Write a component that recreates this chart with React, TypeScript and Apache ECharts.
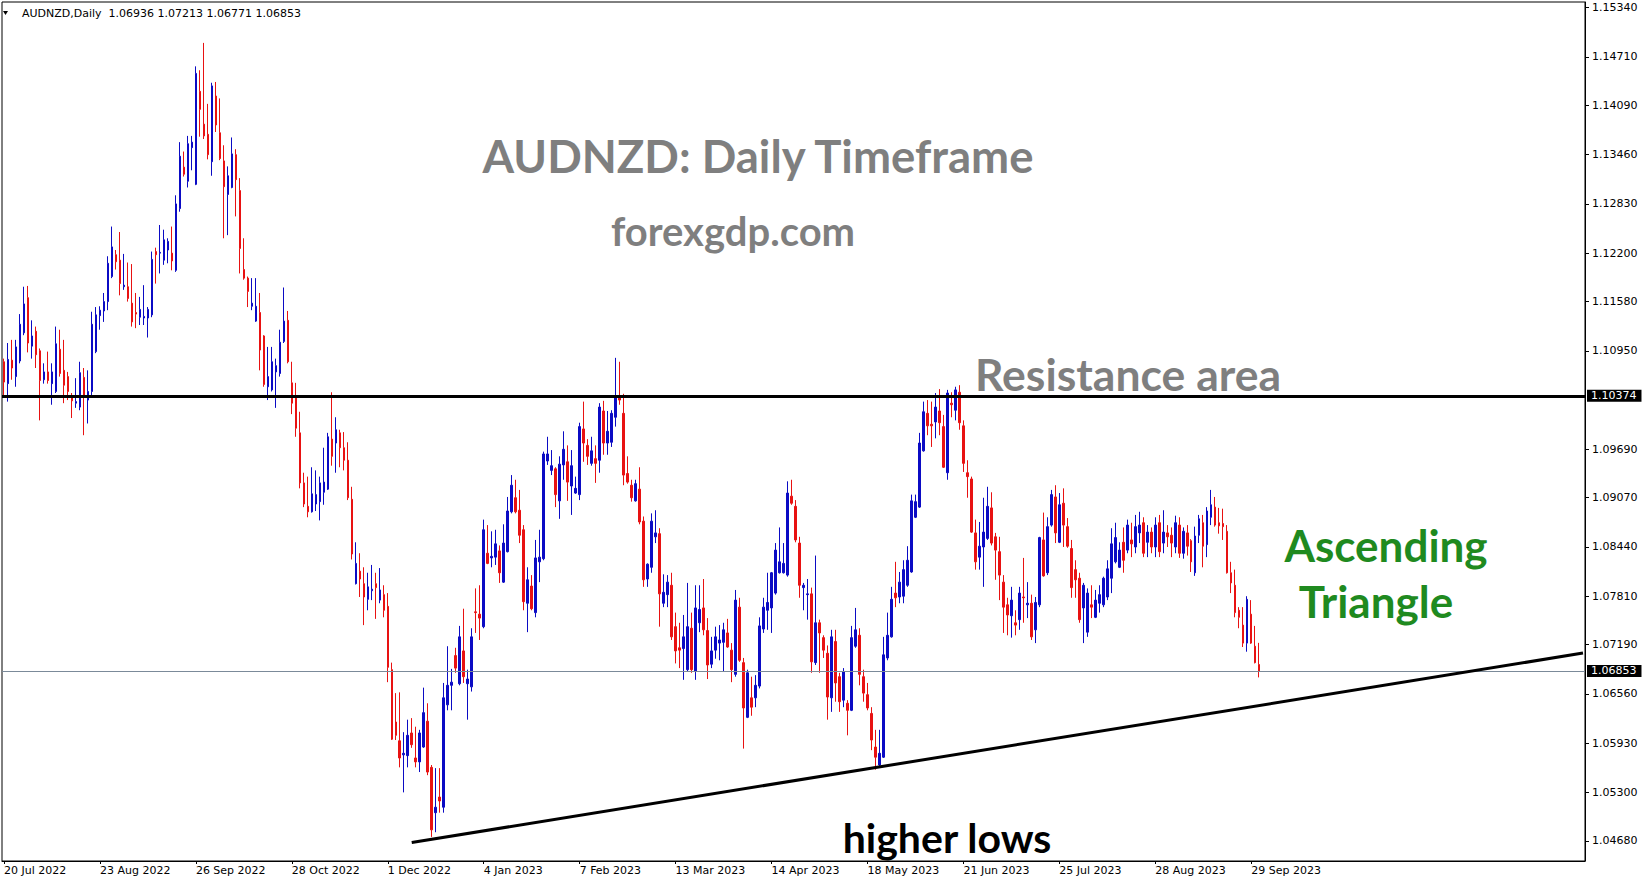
import React, { useEffect, useRef } from "react";
import * as echarts from "echarts";

const symbolName = "AUDNZD";
const timeframe = "Daily";
const firstDate = "2022-07-20";
const totalSlots = 396;
const labelEvery = 24;

const priceTicks = [1.1534, 1.1471, 1.1409, 1.1346, 1.1283, 1.122, 1.1158, 1.1095, 1.0969, 1.0907, 1.0844, 1.0781, 1.0719, 1.0656, 1.0593, 1.053, 1.0468];
const resistanceLevel = 1.10374;
const trendStart = { index: 102, price: 1.04658 };
const trendEnd = { index: 395, price: 1.07082 };

const opens = [
1.1081,1.1053,1.1083,1.1062,1.1082,1.1118,1.1163,1.1101,1.1120,1.1095,1.1058,1.1068,1.1053,1.1043,1.1097,1.1070,1.1062,1.1036,1.1028,1.1023,
1.1061,1.1032,1.1043,1.1094,1.1140,1.1146,1.1158,1.1190,1.1218,1.1211,1.1177,1.1177,1.1156,1.1144,1.1138,1.1137,1.1137,1.1141,1.1222,1.1220,
1.1211,1.1224,1.1220,1.1198,1.1277,1.1330,1.1312,1.1355,1.1308,1.1427,1.1385,1.1372,1.1337,1.1421,1.1374,1.1338,1.1295,1.1304,1.1346,1.1300,
1.1199,1.1188,1.1152,1.1133,1.1144,1.1114,1.1049,1.1045,1.1068,1.1066,1.1107,1.1134,1.1054,1.1036,1.0990,1.0926,1.0896,1.0889,1.0899,1.0902,
1.0914,1.0918,1.0982,1.0977,1.0990,1.0971,1.0955,1.0905,1.0797,1.0813,1.0797,1.0777,1.0788,1.0797,1.0776,1.0783,1.0768,1.0687,1.0620,1.0596,
1.0578,1.0577,1.0606,1.0574,1.0569,1.0588,1.0621,1.0562,1.0504,1.0524,1.0511,1.0642,1.0667,1.0705,1.0669,1.0711,1.0669,1.0665,1.0761,1.0758,
1.0742,1.0836,1.0830,1.0831,1.0839,1.0799,1.0838,1.0889,1.0907,1.0891,1.0866,1.0772,1.0794,1.0760,1.0825,1.0829,1.0954,1.0942,1.0944,1.0903,
1.0949,1.0953,1.0922,1.0913,1.0911,1.0995,1.0974,1.0951,1.0957,1.0955,1.1018,1.0977,1.0978,1.1010,1.1036,1.1015,1.0938,1.0923,1.0903,1.0918,
1.0877,1.0803,1.0818,1.0857,1.0861,1.0772,1.0783,1.0795,1.0742,1.0715,1.0714,1.0687,1.0740,1.0685,1.0747,1.0766,1.0737,1.0694,1.0712,1.0721,
1.0722,1.0734,1.0712,1.0681,1.0767,1.0696,1.0626,1.0651,1.0651,1.0666,1.0739,1.0763,1.0766,1.0785,1.0811,1.0811,1.0808,1.0909,1.0896,1.0849,
1.0792,1.0783,1.0784,1.0696,1.0747,1.0728,1.0708,1.0651,1.0723,1.0678,1.0648,1.0644,1.0635,1.0717,1.0731,1.0678,1.0655,1.0631,1.0588,1.0565,
1.0575,1.0702,1.0729,1.0785,1.0780,1.0781,1.0795,1.0812,1.0882,1.0895,1.0967,1.1015,1.1001,1.1004,1.1018,1.0998,1.0939,1.1028,1.1019,1.1042,
1.0999,1.0939,1.0931,1.0862,1.0831,1.0844,1.0855,1.0894,1.0857,1.0838,1.0799,1.0770,1.0756,1.0747,1.0751,1.0780,1.0770,1.0772,1.0738,1.0770,
1.0853,1.0811,1.0872,1.0908,1.0850,1.0900,1.0870,1.0842,1.0815,1.0804,1.0766,1.0735,1.0770,1.0754,1.0772,1.0770,1.0780,1.0804,1.0825,1.0818,
1.0850,1.0840,1.0853,1.0844,1.0862,1.0875,1.0850,1.0863,1.0844,1.0875,1.0849,1.0862,1.0859,1.0844,1.0872,1.0836,1.0862,1.0852,1.0811,1.0859,
1.0875,1.0847,1.0882,1.0895,1.0875,1.0874,1.0864,1.0811,1.0795,1.0763,1.0744,1.0721,1.0758,1.0717,1.06936
];

const closes = [
1.1055,1.1084,1.1073,1.1100,1.1129,1.1155,1.1105,1.1114,1.1090,1.1057,1.1068,1.1057,1.1068,1.1104,1.1066,1.1051,1.1043,1.1031,1.1030,1.1067,
1.1038,1.1043,1.1129,1.1141,1.1147,1.1158,1.1207,1.1228,1.1209,1.1181,1.1179,1.1162,1.1132,1.1142,1.1148,1.1139,1.1148,1.1212,1.1218,1.1221,
1.1237,1.1235,1.1210,1.1283,1.1344,1.1321,1.1360,1.1362,1.1450,1.1404,1.1370,1.1346,1.1434,1.1384,1.1341,1.1305,1.1319,1.1347,1.1314,1.1226,
1.1188,1.1171,1.1156,1.1152,1.1096,1.1052,1.1062,1.1081,1.1076,1.1106,1.1133,1.1081,1.1028,1.0996,1.0926,1.0899,1.0889,1.0912,1.0911,1.0926,
1.0927,1.0985,1.0960,1.0994,1.0971,1.0955,1.0907,1.0835,1.0823,1.0803,1.0780,1.0793,1.0790,1.0792,1.0789,1.0763,1.0690,1.0598,1.0603,1.0574,
1.0580,1.0603,1.0591,1.0569,1.0606,1.0632,1.0556,1.0482,1.0511,1.0519,1.0651,1.0667,1.0671,1.0689,1.0729,1.0678,1.0675,1.0729,1.0760,1.0753,
1.0866,1.0823,1.0832,1.0848,1.0811,1.0849,1.0890,1.0923,1.0889,1.0859,1.0774,1.0802,1.0765,1.0830,1.0831,1.0963,1.0963,1.0948,1.0911,1.0950,
1.0969,1.0927,1.0948,1.0919,1.0998,1.0977,1.0960,1.0967,1.0951,1.1023,1.0977,1.0992,1.1015,1.1035,1.1032,1.0936,1.0927,1.0907,1.0925,1.0876,
1.0802,1.0822,1.0877,1.0862,1.0784,1.0786,1.0799,1.0729,1.0711,1.0712,1.0729,1.0742,1.0687,1.0766,1.0764,1.0738,1.0693,1.0711,1.0729,1.0725,
1.0738,1.0716,1.0687,1.0776,1.0699,1.0638,1.0683,1.0639,1.0667,1.0743,1.0767,1.0773,1.0811,1.0840,1.0825,1.0823,1.0913,1.0900,1.0853,1.0795,
1.0795,1.0784,1.0697,1.0747,1.0734,1.0712,1.0652,1.0729,1.0670,1.0646,1.0684,1.0635,1.0728,1.0738,1.0681,1.0657,1.0638,1.0597,1.0575,1.0580,
1.0706,1.0731,1.0777,1.0779,1.0799,1.0815,1.0827,1.0903,1.0902,1.0977,1.1017,1.0999,1.0999,1.1023,1.1003,1.0946,1.1041,1.1026,1.1045,1.1003,
1.0951,1.0934,1.0863,1.0825,1.0845,1.0863,1.0896,1.0849,1.0840,1.0808,1.0767,1.0757,1.0776,1.0744,1.0785,1.0779,1.0772,1.0729,1.0773,1.0856,
1.0807,1.0870,1.0911,1.0862,1.0898,1.0872,1.0845,1.0792,1.0802,1.0751,1.0795,1.0785,1.0767,1.0776,1.0783,1.0804,1.0816,1.0848,1.0856,1.0840,
1.0827,1.0872,1.0848,1.0870,1.0872,1.0836,1.0863,1.0844,1.0872,1.0838,1.0863,1.0857,1.0849,1.0875,1.0836,1.0864,1.0845,1.0825,1.0858,1.0880,
1.0845,1.0890,1.0898,1.0872,1.0871,1.0870,1.0811,1.0798,1.0760,1.0754,1.0721,1.0777,1.0721,1.0696,1.06853
];

const lows = [
1.1036,1.1030,1.1058,1.1049,1.1079,1.1115,1.1093,1.1085,1.1073,1.1006,1.1053,1.1053,1.1026,1.1041,1.1062,1.1028,1.1032,1.1009,1.1022,1.1019,
1.0987,1.1002,1.1036,1.1092,1.1122,1.1132,1.1147,1.1188,1.1199,1.1166,1.1173,1.1158,1.1126,1.1124,1.1128,1.1128,1.1112,1.1138,1.1181,1.1194,
1.1205,1.1207,1.1198,1.1196,1.1273,1.1318,1.1304,1.1326,1.1307,1.1369,1.1366,1.1340,1.1319,1.1375,1.1339,1.1239,1.1243,1.1303,1.1267,1.1194,
1.1186,1.1151,1.1147,1.1132,1.1070,1.1049,1.1032,1.1043,1.1022,1.1062,1.1105,1.1079,1.1014,1.0985,1.0919,1.0895,1.0882,1.0888,1.0890,1.0878,
1.0898,1.0917,1.0948,1.0939,1.0946,1.0942,1.0904,1.0828,1.0796,1.0780,1.0744,1.0763,1.0776,1.0752,1.0772,1.0754,1.0671,1.0597,1.0597,1.0562,
1.0530,1.0562,1.0587,1.0562,1.0556,1.0587,1.0552,1.0473,1.0479,1.0504,1.0504,1.0635,1.0635,1.0683,1.0667,1.0670,1.0623,1.0659,1.0734,1.0725,
1.0740,1.0822,1.0818,1.0821,1.0798,1.0798,1.0837,1.0887,1.0887,1.0849,1.0763,1.0735,1.0763,1.0754,1.0799,1.0827,1.0949,1.0936,1.0895,1.0880,
1.0930,1.0903,1.0885,1.0912,1.0904,1.0953,1.0949,1.0948,1.0926,1.0939,1.0962,1.0962,1.0972,1.0998,1.1026,1.0923,1.0925,1.0902,1.0902,1.0873,
1.0793,1.0793,1.0811,1.0849,1.0742,1.0767,1.0767,1.0725,1.0695,1.0689,1.0674,1.0684,1.0683,1.0674,1.0735,1.0731,1.0675,1.0689,1.0701,1.0699,
1.0684,1.0715,1.0671,1.0678,1.0697,1.0586,1.0625,1.0628,1.0639,1.0663,1.0734,1.0738,1.0734,1.0783,1.0810,1.0810,1.0806,1.0898,1.0850,1.0779,
1.0763,1.0751,1.0683,1.0693,1.0683,1.0702,1.0623,1.0633,1.0646,1.0633,1.0639,1.0603,1.0634,1.0715,1.0667,1.0646,1.0635,1.0584,1.0559,1.0562,
1.0574,1.0699,1.0728,1.0767,1.0772,1.0772,1.0793,1.0811,1.0881,1.0894,1.0966,1.0987,1.0972,1.0983,1.0987,1.0945,1.0930,1.1010,1.1006,1.0994,
1.0940,1.0907,1.0862,1.0815,1.0815,1.0793,1.0853,1.0846,1.0802,1.0776,1.0734,1.0731,1.0728,1.0731,1.0738,1.0747,1.0753,1.0725,1.0721,1.0767,
1.0806,1.0808,1.0870,1.0849,1.0849,1.0844,1.0843,1.0779,1.0779,1.0747,1.0721,1.0729,1.0753,1.0753,1.0760,1.0767,1.0776,1.0785,1.0823,1.0817,
1.0811,1.0836,1.0831,1.0836,1.0849,1.0831,1.0831,1.0836,1.0831,1.0831,1.0836,1.0844,1.0831,1.0836,1.0830,1.0829,1.0833,1.0812,1.0807,1.0849,
1.0818,1.0831,1.0872,1.0870,1.0861,1.0853,1.0810,1.0785,1.0754,1.0740,1.0716,1.0710,1.0720,1.0695,1.06771
];

const highs = [
1.1085,1.1105,1.1109,1.1109,1.1142,1.1177,1.1178,1.1134,1.1126,1.1098,1.1079,1.1094,1.1079,1.1126,1.1122,1.1109,1.1068,1.1041,1.1060,1.1081,
1.1073,1.1070,1.1145,1.1151,1.1152,1.1169,1.1216,1.1254,1.1224,1.1247,1.1219,1.1208,1.1206,1.1169,1.1164,1.1179,1.1151,1.1222,1.1227,1.1256,
1.1250,1.1239,1.1254,1.1294,1.1362,1.1350,1.1370,1.1370,1.1459,1.1454,1.1489,1.1411,1.1438,1.1439,1.1418,1.1358,1.1331,1.1368,1.1353,1.1316,
1.1239,1.1190,1.1188,1.1188,1.1169,1.1115,1.1100,1.1100,1.1085,1.1122,1.1176,1.1146,1.1081,1.1054,1.1017,1.0939,1.0934,1.0946,1.0942,1.0934,
1.0971,1.0990,1.1042,1.1010,1.0994,1.0991,1.0978,1.0921,1.0850,1.0836,1.0818,1.0811,1.0821,1.0811,1.0817,1.0795,1.0785,1.0696,1.0657,1.0658,
1.0607,1.0623,1.0625,1.0614,1.0610,1.0664,1.0644,1.0565,1.0561,1.0561,1.0670,1.0717,1.0688,1.0715,1.0743,1.0765,1.0687,1.0740,1.0791,1.0795,
1.0879,1.0872,1.0864,1.0866,1.0846,1.0873,1.0908,1.0936,1.0930,1.0917,1.0872,1.0818,1.0808,1.0853,1.0866,1.0966,1.0985,1.0968,1.0946,1.0960,
1.0992,1.0974,1.0968,1.0934,1.1003,1.1030,1.0982,1.0985,1.0974,1.1028,1.1031,1.1018,1.1019,1.1086,1.1081,1.1040,1.0960,1.0930,1.0930,1.0946,
1.0883,1.0823,1.0887,1.0891,1.0868,1.0809,1.0808,1.0811,1.0760,1.0747,1.0757,1.0798,1.0760,1.0795,1.0795,1.0803,1.0753,1.0729,1.0742,1.0744,
1.0747,1.0752,1.0721,1.0789,1.0779,1.0702,1.0687,1.0678,1.0680,1.0754,1.0779,1.0811,1.0812,1.0849,1.0869,1.0849,1.0928,1.0930,1.0904,1.0857,
1.0798,1.0803,1.0792,1.0833,1.0751,1.0731,1.0718,1.0738,1.0738,1.0683,1.0689,1.0648,1.0743,1.0766,1.0740,1.0687,1.0670,1.0639,1.0610,1.0610,
1.0729,1.0760,1.0793,1.0825,1.0812,1.0827,1.0845,1.0911,1.0911,1.0990,1.1030,1.1032,1.1030,1.1041,1.1046,1.1013,1.1045,1.1042,1.1049,1.1051,
1.1006,1.0955,1.0934,1.0879,1.0876,1.0907,1.0921,1.0914,1.0862,1.0857,1.0808,1.0779,1.0793,1.0763,1.0793,1.0830,1.0799,1.0783,1.0780,1.0857,
1.0888,1.0882,1.0917,1.0923,1.0913,1.0919,1.0881,1.0853,1.0827,1.0811,1.0798,1.0791,1.0795,1.0789,1.0795,1.0806,1.0827,1.0868,1.0875,1.0850,
1.0869,1.0879,1.0875,1.0885,1.0889,1.0882,1.0872,1.0869,1.0882,1.0885,1.0891,1.0872,1.0869,1.0884,1.0882,1.0869,1.0872,1.0854,1.0870,1.0885,
1.0885,1.0895,1.0917,1.0908,1.0894,1.0893,1.0872,1.0825,1.0815,1.0767,1.0767,1.0781,1.0776,1.0743,1.07213
];

const monthNames = ["Jan", "Feb", "Mar", "Apr", "May", "Jun", "Jul", "Aug", "Sep", "Oct", "Nov", "Dec"];

function buildCategories(start: string, count: number): string[] {
  const out: string[] = [];
  const d = new Date(start + "T00:00:00Z");
  while (out.length < count) {
    const wd = d.getUTCDay();
    if (wd !== 0 && wd !== 6) {
      out.push(`${d.getUTCDate()} ${monthNames[d.getUTCMonth()]} ${d.getUTCFullYear()}`);
    }
    d.setUTCDate(d.getUTCDate() + 1);
  }
  return out;
}

const BULL = "#0b0bc4";
const BEAR = "#e81212";
const AXIS_FONT = '"DejaVu Sans", sans-serif';
const NOTE_FONT = 'Lato, "Open Sans", sans-serif';

export default function App() {
  const ref = useRef<HTMLDivElement>(null);

  useEffect(() => {
    if (!ref.current) return;
    const chart = echarts.init(ref.current, undefined, { renderer: "svg" });
    const categories = buildCategories(firstDate, totalSlots);
    const candles = opens.map((o, i) => [o, closes[i], lows[i], highs[i]]);
    const last = opens.length - 1;
    const lastClose = closes[last];
    const header = `${symbolName},${timeframe}  ${opens[last].toFixed(5)} ${highs[last].toFixed(5)} ${lows[last].toFixed(5)} ${lastClose.toFixed(5)}`;
    const showDateTick = (index: number) => index % labelEvery === 0 && index <= last;

    const gridTop = 2;
    const gridBottomPx = 861;
    const pxPerUnit = 7815;
    const refPrice = 1.15439; // price at y = 0
    const yMax = refPrice - gridTop / pxPerUnit;
    const yMin = refPrice - gridBottomPx / pxPerUnit;

    const priceLabel = (txt: string) => ({
      show: true,
      position: "end",
      distance: 2,
      formatter: txt,
      backgroundColor: "#000",
      color: "#fff",
      fontFamily: AXIS_FONT,
      fontSize: 11,
      padding: [1, 5, 0, 4],
    });

    const noteText = (text: string, x: number, y: number, size: number, fill: string) => ({
      type: "text",
      x,
      y,
      silent: true,
      style: {
        text,
        fill,
        font: `bold ${size}px ${NOTE_FONT}`,
        align: "center",
        verticalAlign: "middle",
      },
    });

    chart.setOption({
      animation: false,
      backgroundColor: "#ffffff",
      grid: {
        left: 2,
        right: 1649 - 1585,
        top: gridTop,
        bottom: 884 - gridBottomPx,
        show: true,
        borderColor: "#000",
        borderWidth: 1,
        backgroundColor: "#fff",
      },
      xAxis: {
        type: "category",
        data: categories,
        boundaryGap: true,
        axisLine: { show: true, lineStyle: { color: "#000", width: 1 } },
        axisTick: { show: true, interval: showDateTick, alignWithLabel: true, length: 3, lineStyle: { color: "#000" } },
        axisLabel: {
          interval: showDateTick,
          align: "left",
          color: "#000",
          fontFamily: AXIS_FONT,
          fontSize: 11,
          margin: 4,
        },
        splitLine: { show: false },
      },
      yAxis: {
        type: "value",
        position: "right",
        min: yMin,
        max: yMax,
        axisLine: { show: true, onZero: false, lineStyle: { color: "#000", width: 1 } },
        axisTick: { show: true, length: 4, customValues: priceTicks, lineStyle: { color: "#000" } },
        axisLabel: {
          customValues: priceTicks,
          formatter: (v: number) => v.toFixed(5),
          color: "#000",
          fontFamily: AXIS_FONT,
          fontSize: 11,
          margin: 7,
        },
        splitLine: { show: false },
      },
      series: [
        {
          type: "candlestick",
          data: candles,
          barWidth: 2,
          itemStyle: {
            color: BULL,
            color0: BEAR,
            borderColor: BULL,
            borderColor0: BEAR,
            borderWidth: 1,
          },
          silent: true,
          markLine: {
            silent: true,
            precision: 5,
            symbol: ["none", "none"],
            animation: false,
            data: [
              {
                yAxis: resistanceLevel,
                lineStyle: { color: "#000", width: 3, type: "solid" },
                label: priceLabel(resistanceLevel.toFixed(5)),
              },
              {
                yAxis: lastClose,
                lineStyle: { color: "#7b8a99", width: 1, type: "solid" },
                label: priceLabel(lastClose.toFixed(5)),
              },
              [
                { coord: [trendStart.index, trendStart.price] },
                { coord: [trendEnd.index, trendEnd.price] },
              ],
            ],
            lineStyle: { color: "#000", width: 3, type: "solid" },
            label: { show: false },
          },
        },
      ],
      graphic: [
        {
          type: "polygon",
          silent: true,
          shape: { points: [[3, 11], [8, 11], [5.5, 15]] },
          style: { fill: "#000" },
        },
        {
          type: "text",
          x: 22,
          y: 13,
          silent: true,
          style: { text: header, fill: "#000", font: `11px ${AXIS_FONT}`, verticalAlign: "middle" },
        },
        noteText("AUDNZD: Daily Timeframe", 758, 155, 45.5, "#7f7f7f"),
        noteText("forexgdp.com", 733, 231, 40, "#7f7f7f"),
        noteText("Resistance area", 1128, 373, 44.5, "#7f7f7f"),
        noteText("Ascending", 1386, 545, 44, "#1f8a1f"),
        noteText("Triangle", 1376, 601, 44, "#1f8a1f"),
        noteText("higher lows", 947, 837, 41, "#000000"),
      ],
    });

    return () => chart.dispose();
  }, []);

  return (
    <div
      ref={ref}
      style={{ position: "absolute", left: 0, top: 0, width: 1649, height: 884, background: "#fff" }}
    />
  );
}
